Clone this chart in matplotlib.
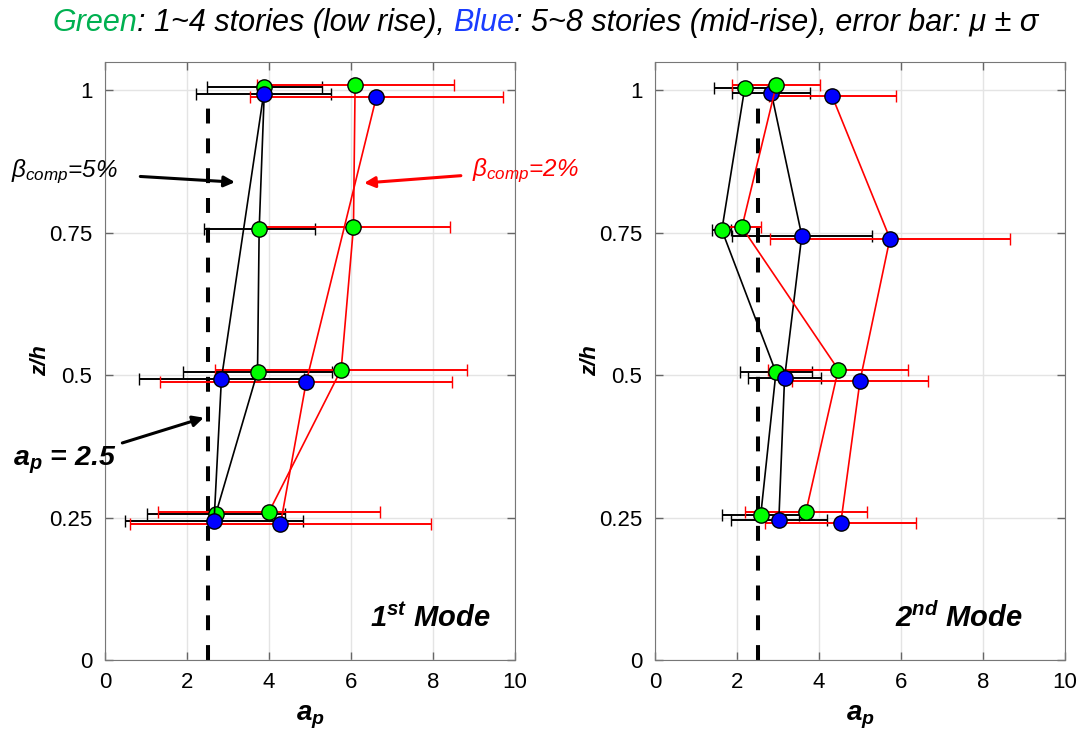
import numpy as np
import matplotlib.pyplot as plt

plt.rcParams['font.family'] = ['Liberation Sans', 'DejaVu Sans']
plt.rcParams['mathtext.fontset'] = 'custom'
plt.rcParams['mathtext.rm'] = 'Liberation Sans'
plt.rcParams['mathtext.it'] = 'Liberation Sans:italic'
plt.rcParams['mathtext.bf'] = 'Liberation Sans:bold'
plt.rcParams['mathtext.bfit'] = 'Liberation Sans:italic:bold'

# floor levels (z/h)
z_all = [1.0, 0.75, 0.5, 0.25]
z_mid_m1 = [1.0, 0.5, 0.25]   # mid-rise, 1st mode has no 0.75 point

# 1st mode: mean and std of a_p
m1_b5_low = [3.89, 3.76, 3.72, 2.70]
m1_b5_low_sd = [1.40, 1.35, 1.82, 1.68]
m1_b5_mid = [3.87, 2.84, 2.66]
m1_b5_mid_sd = [1.65, 2.01, 2.18]
m1_b2_low = [6.10, 6.06, 5.76, 4.00]
m1_b2_low_sd = [2.40, 2.35, 3.08, 2.70]
m1_b2_mid = [6.62, 4.91, 4.28]
m1_b2_mid_sd = [3.08, 3.56, 3.68]

# 2nd mode
m2_b5_low = [2.19, 1.63, 2.95, 2.58]
m2_b5_low_sd = [0.74, 0.23, 0.87, 0.94]
m2_b5_mid = [2.84, 3.58, 3.16, 3.02]
m2_b5_mid_sd = [0.95, 1.71, 0.90, 1.17]
m2_b2_low = [2.96, 2.12, 4.47, 3.68]
m2_b2_low_sd = [1.07, 0.46, 1.71, 1.49]
m2_b2_mid = [4.32, 5.73, 5.00, 4.53]
m2_b2_mid_sd = [1.55, 2.93, 1.67, 1.84]

ap_code = 2.5
xticks = [0, 2, 4, 6, 8, 10]
yticks = [0, 0.25, 0.5, 0.75, 1]
ytick_labels = ['0', '0.25', '0.5', '0.75', '1']

GREEN = '#00ff00'
BLUE = '#0000ff'


def draw_series(ax, x, sd, z, dz, col, face):
    ax.errorbar(x, np.array(z) + dz, xerr=sd, fmt='-o', color=col, ecolor=col,
                mfc=face, mec='k', mew=1.0, ms=11, lw=1.2, elinewidth=1.4,
                capsize=4, capthick=1.4, zorder=3)


def setup(ax):
    ax.plot([ap_code, ap_code], [0, 0.975], color='k', lw=2.9, dashes=(3.7, 3.7), zorder=2)
    ax.set_xlim(0, 10)
    ax.set_ylim(0, 1.05)
    ax.set_xticks(xticks)
    ax.set_yticks(yticks)
    ax.set_yticklabels(ytick_labels)
    ax.grid(True, color='#e4e4e4', lw=1)
    ax.set_axisbelow(True)
    ax.tick_params(direction='in', top=True, right=True, length=6, width=1,
                   color='#666666', labelsize=16, pad=9)
    for s in ax.spines.values():
        s.set_color('#777777')
    ax.set_ylabel('z/h', fontsize=16, fontweight='bold', style='italic', labelpad=-1)
    ax.set_xlabel(r'$\mathbfit{a}_{\mathbfit{p}}$', fontsize=20, labelpad=7)


fig = plt.figure(figsize=(10.86, 7.33), dpi=100)
ax1 = fig.add_axes([105 / 1086, 73 / 733, 410 / 1086, 598 / 733])
ax2 = fig.add_axes([655 / 1086, 73 / 733, 410 / 1086, 598 / 733])

setup(ax1)
draw_series(ax1, m1_b5_low, m1_b5_low_sd, z_all, 0.006, 'k', GREEN)
draw_series(ax1, m1_b5_mid, m1_b5_mid_sd, z_mid_m1, -0.006, 'k', BLUE)
draw_series(ax1, m1_b2_low, m1_b2_low_sd, z_all, 0.01, 'r', GREEN)
draw_series(ax1, m1_b2_mid, m1_b2_mid_sd, z_mid_m1, -0.011, 'r', BLUE)

setup(ax2)
draw_series(ax2, m2_b5_low, m2_b5_low_sd, z_all, 0.005, 'k', GREEN)
draw_series(ax2, m2_b5_mid, m2_b5_mid_sd, z_all, -0.005, 'k', BLUE)
draw_series(ax2, m2_b2_low, m2_b2_low_sd, z_all, 0.01, 'r', GREEN)
draw_series(ax2, m2_b2_mid, m2_b2_mid_sd, z_all, -0.01, 'r', BLUE)

# annotations
ax1.annotate(r'$\beta_{comp}$=5%', xy=(3.17, 0.839), xytext=(0.32, 0.857),
             ha='right', va='center', fontsize=17.5, style='italic', color='k',
             annotation_clip=False,
             arrowprops=dict(arrowstyle='-|>', color='k', lw=2.2, mutation_scale=16,
                             shrinkA=14, shrinkB=0))
ax1.annotate(r'$\beta_{comp}$=2%', xy=(6.32, 0.8375), xytext=(8.95, 0.859),
             ha='left', va='center', fontsize=17.5, style='italic', color='r',
             annotation_clip=False,
             arrowprops=dict(arrowstyle='-|>', color='r', lw=2.2, mutation_scale=16,
                             shrinkA=6, shrinkB=0))
ax1.annotate(r'$\mathbfit{a}_{\mathbfit{p}}$ = 2.5', xy=(2.41, 0.4255), xytext=(0.29, 0.350),
             ha='right', va='center', fontsize=20.5, fontweight='bold', style='italic',
             annotation_clip=False,
             arrowprops=dict(arrowstyle='-|>', color='k', lw=2.2, mutation_scale=16,
                             shrinkA=2, shrinkB=0))

ax1.text(0.94, 0.07, r'1$^{\mathbfit{st}}$ Mode', transform=ax1.transAxes, ha='right',
         va='center', fontsize=21, fontweight='bold', style='italic')
ax2.text(0.897, 0.07, r'2$^{\mathbfit{nd}}$ Mode', transform=ax2.transAxes, ha='right',
         va='center', fontsize=21, fontweight='bold', style='italic')

# title with coloured words
parts = [('Green', '#00b050'), (': 1~4 stories (low rise), ', 'k'), ('Blue', '#1a3cff'),
         (': 5~8 stories (mid-rise), error bar: μ ± σ', 'k')]
prev = fig.text(52 / 1086, 1 - 38 / 733, parts[0][0], color=parts[0][1],
                fontsize=22, style='italic', ha='left', va='bottom')
for s, c in parts[1:]:
    prev = ax1.annotate(s, xy=(1, 0), xycoords=prev, ha='left', va='bottom',
                        color=c, fontsize=22, style='italic', annotation_clip=False)

fig.savefig('out.png', dpi=100)
